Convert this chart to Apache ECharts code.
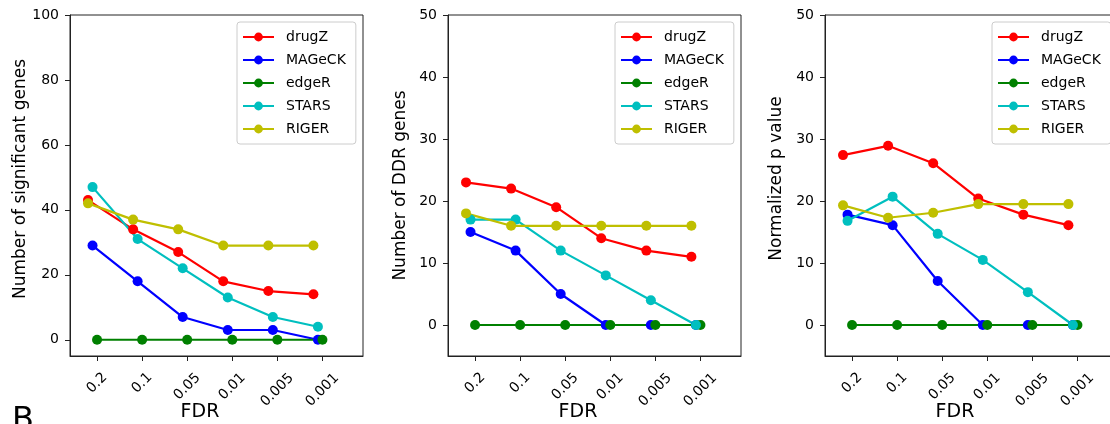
<!DOCTYPE html>
<html>
<head>
<meta charset="utf-8">
<script src="https://cdn.jsdelivr.net/npm/echarts@6/dist/echarts.min.js"></script>
<style>
  html, body { margin: 0; padding: 0; background: #fff; }
  #chart { width: 1110px; height: 424px; }
</style>
</head>
<body>
<div id="chart"></div>
<script>
// FDR thresholds (x categories)
const fdrLabels = ['0.2', '0.1', '0.05', '0.01', '0.005', '0.001'];
const methods = ['drugZ', 'MAGeCK', 'edgeR', 'STARS', 'RIGER'];
const methodColors = ['#ff0000', '#0000ff', '#008000', '#00bfbf', '#bfbf00'];
// small horizontal shift of each method around the category position
const methodShift = [-0.2, -0.1, 0, -0.1, -0.2];

// panel 1: number of significant genes
const sigDrugZ = [43, 34, 27, 18, 15, 14];
const sigMageck = [29, 18, 7, 3, 3, 0];
const sigEdgeR = [0, 0, 0, 0, 0, 0];
const sigStars = [47, 31, 22, 13, 7, 4];
const sigRiger = [42, 37, 34, 29, 29, 29];

// panel 2: number of DDR genes
const ddrDrugZ = [23, 22, 19, 14, 12, 11];
const ddrMageck = [15, 12, 5, 0, 0, 0];
const ddrEdgeR = [0, 0, 0, 0, 0, 0];
const ddrStars = [17, 17, 12, 8, 4, 0];
const ddrRiger = [18, 16, 16, 16, 16, 16];

// panel 3: normalized p value
const pDrugZ = [27.4, 28.9, 26.1, 20.4, 17.8, 16.1];
const pMageck = [17.8, 16.1, 7.1, 0, 0, 0];
const pEdgeR = [0, 0, 0, 0, 0, 0];
const pStars = [16.8, 20.7, 14.7, 10.5, 5.3, 0];
const pRiger = [19.3, 17.3, 18.1, 19.5, 19.5, 19.5];

const yTicks1 = [0, 20, 40, 60, 80, 100];
const yTicks23 = [0, 10, 20, 30, 40, 50];
const yNames = ['Number of significant genes', 'Number of DDR genes', 'Normalized p value'];

const panels = [
  [sigDrugZ, sigMageck, sigEdgeR, sigStars, sigRiger],
  [ddrDrugZ, ddrMageck, ddrEdgeR, ddrStars, ddrRiger],
  [pDrugZ, pMageck, pEdgeR, pStars, pRiger]
];

const font = 'DejaVu Sans';
const gridLefts = [70, 448, 825];
const yNameGaps = [41, 39, 40];
const yNamePad = [[0, 0, 0, 13], [0, 0, 0, 0], [0, 0, 0, 14]];
const xIdx = fdrLabels.map((_, i) => i);

const chart = echarts.init(document.getElementById('chart'));

const grids = [], xAxes = [], yAxes = [], legends = [], series = [];
gridLefts.forEach((left, p) => {
  grids.push({ left: left, top: 15, width: 293, height: 341, show: true,
    outerBoundsMode: 'none', containLabel: false,
    borderColor: '#222', borderWidth: 1, backgroundColor: 'transparent' });
  xAxes.push({
    type: 'value', gridIndex: p, min: -0.6, max: 5.9,
    name: 'FDR', nameLocation: 'middle', nameGap: 47, nameMoveOverlap: false,
    nameTextStyle: { fontFamily: font, fontSize: 19, color: '#000', padding: [0, 33, 0, 0] },
    axisLine: { show: true, onZero: false, lineStyle: { color: '#222', width: 1 } },
    axisTick: { show: true, customValues: xIdx, length: 5, lineStyle: { color: '#222' } },
    splitLine: { show: false },
    axisLabel: {
      customValues: xIdx, rotate: 45, align: 'center', verticalAlign: 'middle', margin: 27,
      formatter: v => { const s = fdrLabels[Math.round(v)]; return '{l' + s.length + '|' + s + '}'; },
      rich: {
        l3: { fontFamily: font, fontSize: 14, color: '#000' },
        l4: { fontFamily: font, fontSize: 14, color: '#000', padding: [5, 5, 0, 0] },
        l5: { fontFamily: font, fontSize: 14, color: '#000', padding: [10, 10, 0, 0] }
      }
    }
  });
  const ticks = p === 0 ? yTicks1 : yTicks23;
  yAxes.push({
    type: 'value', gridIndex: p, min: -5, max: ticks[ticks.length - 1],
    name: yNames[p], nameLocation: 'middle', nameGap: yNameGaps[p], nameMoveOverlap: false,
    nameTextStyle: { fontFamily: font, fontSize: 17, color: '#000', padding: yNamePad[p] },
    axisLine: { show: true, onZero: false, lineStyle: { color: '#222', width: 1 } },
    axisTick: { show: true, customValues: ticks, length: 5, lineStyle: { color: '#222' } },
    splitLine: { show: false },
    axisLabel: { customValues: ticks, fontFamily: font, fontSize: 14, color: '#000', margin: 11 }
  });
  legends.push({
    data: methods, orient: 'vertical', left: left + 167, top: 22,
    itemWidth: 31, itemHeight: 11, itemGap: 9,
    padding: [8, 10, 8, 5],
    backgroundColor: 'rgba(255,255,255,0.8)', borderColor: '#ccc', borderWidth: 1, borderRadius: 3,
    textStyle: { fontFamily: font, fontSize: 14, color: '#000', padding: [0, 0, 0, 7] }
  });
  panels[p].forEach((vals, m) => {
    series.push({
      name: methods[m], type: 'line', xAxisIndex: p, yAxisIndex: p,
      data: vals.map((v, i) => [i + methodShift[m], v]),
      symbol: 'circle', symbolSize: 10, showSymbol: true,
      color: methodColors[m],
      lineStyle: { width: 2.2, color: methodColors[m] },
      itemStyle: { color: methodColors[m] },
      emphasis: { disabled: true }
    });
  });
});

chart.setOption({
  animation: false,
  backgroundColor: '#fff',
  grid: grids,
  xAxis: xAxes,
  yAxis: yAxes,
  legend: legends,
  series: series,
  graphic: [{ type: 'text', left: 12, top: 405,
    style: { text: 'B', fontFamily: font, fontSize: 32, fill: '#000' } }]
});
</script>
</body>
</html>
